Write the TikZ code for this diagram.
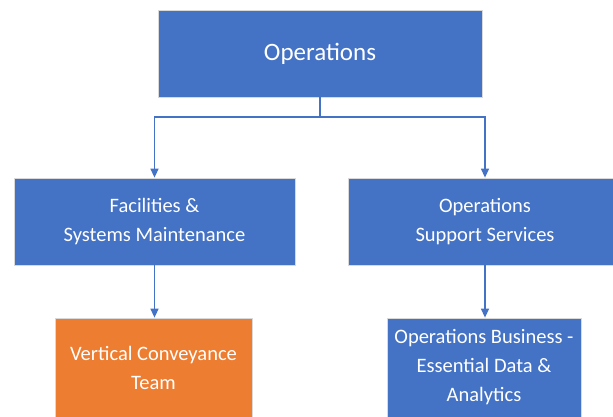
\documentclass[tikz,border=0pt]{standalone}
\usepackage{fontspec}
\setmainfont{Carlito}
\usetikzlibrary{arrows.meta}
\definecolor{unitblue}{HTML}{4472C4}
\definecolor{unitorange}{HTML}{ED7D31}
\definecolor{edgegray}{HTML}{D9D9D9}
\begin{document}
\begin{tikzpicture}[x=1pt,y=1pt,
  unit/.style={rectangle, fill=unitblue, draw=edgegray, line width=0.8pt,
    text=white, align=center, inner sep=0pt},
  headunit/.style={unit, font=\fontsize{25}{30}\selectfont},
  subunit/.style={unit, font=\fontsize{20.5}{29}\selectfont},
  team/.style={subunit, fill=unitorange},
  link/.style={draw=unitblue, line width=1.4pt},
  arr/.style={link, -{Triangle[width=8pt,length=9pt]}}]
  % page frame
  \fill[white] (0,0) rectangle (613,-416);
  \useasboundingbox (0,0) rectangle (613,-416);

  % units
  \node[headunit, minimum width=324pt, minimum height=87pt] (top) at (320,-53.5) {Operations};
  \node[subunit, minimum width=281pt, minimum height=87pt] (fac) at (154.5,-221.5)
    {Facilities \&\\Systems Maintenance};
  \node[subunit, minimum width=274pt, minimum height=87pt] (ops) at (485,-221.5)
    {Operations\\Support Services};
  \node[team, minimum width=197pt, minimum height=99pt] (vct) at (153.5,-367.5)
    {Vertical Conveyance\\Team};
  \node[subunit, minimum width=194pt, minimum height=99pt] (oba) at (484,-367.5)
    {Operations Business -\\Essential Data \&\\Analytics};

  % connectors
  \coordinate (split) at (320,-117);
  \draw[link] (top.south) -- (split);
  \draw[arr] (split) -| (fac.north);
  \draw[arr] (split) -| (ops.north);
  \draw[arr] (fac.south) -- (vct.north -| fac.south);
  \draw[arr] (ops.south) -- (oba.north -| ops.south);
\end{tikzpicture}
\end{document}
